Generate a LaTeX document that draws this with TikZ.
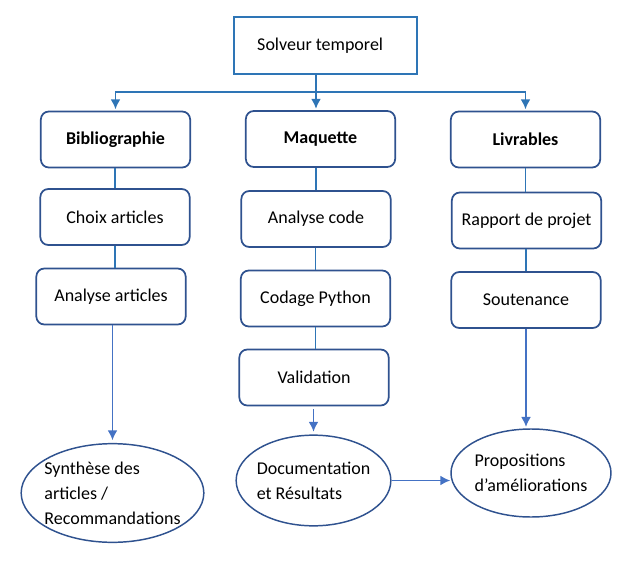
\documentclass[tikz,border=0pt]{standalone}
\usepackage{fontspec}
\setmainfont{Carlito}
\usetikzlibrary{shapes.geometric,arrows.meta,positioning}
\definecolor{boxblue}{HTML}{2F528F}
\definecolor{topblue}{HTML}{2E75B6}
\definecolor{flowblue}{HTML}{4472C4}

\begin{document}
\begin{tikzpicture}[x=0.75pt, y=-0.75pt, font=\fontsize{13.5}{16}\selectfont,
  task/.style={draw=boxblue, line width=1.3pt, rounded corners=6pt, text=black, minimum width=112pt, minimum height=42pt},
  head/.style={task, font=\fontsize{13.5}{16}\selectfont\bfseries},
  result/.style={draw=boxblue, line width=1.1pt, ellipse},
  lbl/.style={align=left, font=\fontsize{13.5}{18.75}\selectfont},
  conn/.style={topblue, line width=1.3pt, >={Latex[length=7.5pt,width=7.5pt]}},
  flow/.style={flowblue, line width=1.3pt, >={Latex[length=7.5pt,width=7.5pt]}}]

\useasboundingbox (0,0) rectangle (625,567);

\node[draw=topblue, line width=1.2pt, minimum width=137pt, minimum height=43pt] (top) at (325.5,45.5) {\raisebox{2pt}{Solveur temporel}\hspace*{8pt}};

\node[head] (bib) at (115.5,139.5) {Bibliographie};
\node[head] (maq) at (320.5,139) {Maquette};
\node[head] (liv) at (525.5,139.5) {Livrables};

\node[task] (choix) at (115,217) {Choix articles};
\node[task] (anaart) at (111,296.5) {Analyse articles};

\node[task] (anacode) at (316,219) {Analyse code};
\node[task] (codage) at (315.5,298.5) {Codage Python};
\node[task] (valid) at (314,377.5) {Validation};

\node[task] (rapport) at (526.5,220.5) {Rapport de projet};
\node[task] (sout) at (526,300) {Soutenance};

\node[result, minimum width=137pt, minimum height=74pt, label={[lbl]center:Synthèse des\\articles /\\Recommandations}] (syn) at (112.5,493) {};
\node[result, minimum width=116pt, minimum height=68pt, label={[lbl]center:Documentation\\et Résultats}] (doc) at (313.5,480.5) {};
\node[result, minimum width=120pt, minimum height=66pt, label={[lbl]center:Propositions\\d’améliorations}] (prop) at (531,473) {};

\coordinate (split) at (316,92);
\draw[conn] (top.south -| split) -- (split);
\draw[conn, ->] (split) -| ([yshift=1pt]bib.north);
\draw[conn, ->] (split) -- ([yshift=1pt]split |- maq.north);
\draw[conn, ->] (split) -| ([yshift=1pt]liv.north);

\draw[conn] (choix.north) -- (choix.north |- bib.south);
\draw[conn] (anaart.north -| choix.south) -- (choix.south);
\draw[conn] (anacode.north) -- (anacode.north |- maq.south);
\draw[conn] (codage.north) -- (codage.north |- anacode.south);
\draw[conn] (valid.north -| codage.south) -- (codage.south);
\draw[conn] (liv.south) -- (liv.south |- rapport.north);
\draw[conn] (sout.north) -- (sout.north |- rapport.south);

\draw[flow, ->] (anaart.south -| syn.north) -- ([yshift=2pt]syn.north);
\draw[flow, ->] ([yshift=-2pt]valid.south -| doc.north) -- ([yshift=2pt]doc.north);
\draw[flow, ->] (sout.south) -- ([yshift=1pt]sout.south |- prop.north);
\draw[flow, ->] (doc.east) -- (doc.east -| prop.west);

\end{tikzpicture}
\end{document}
